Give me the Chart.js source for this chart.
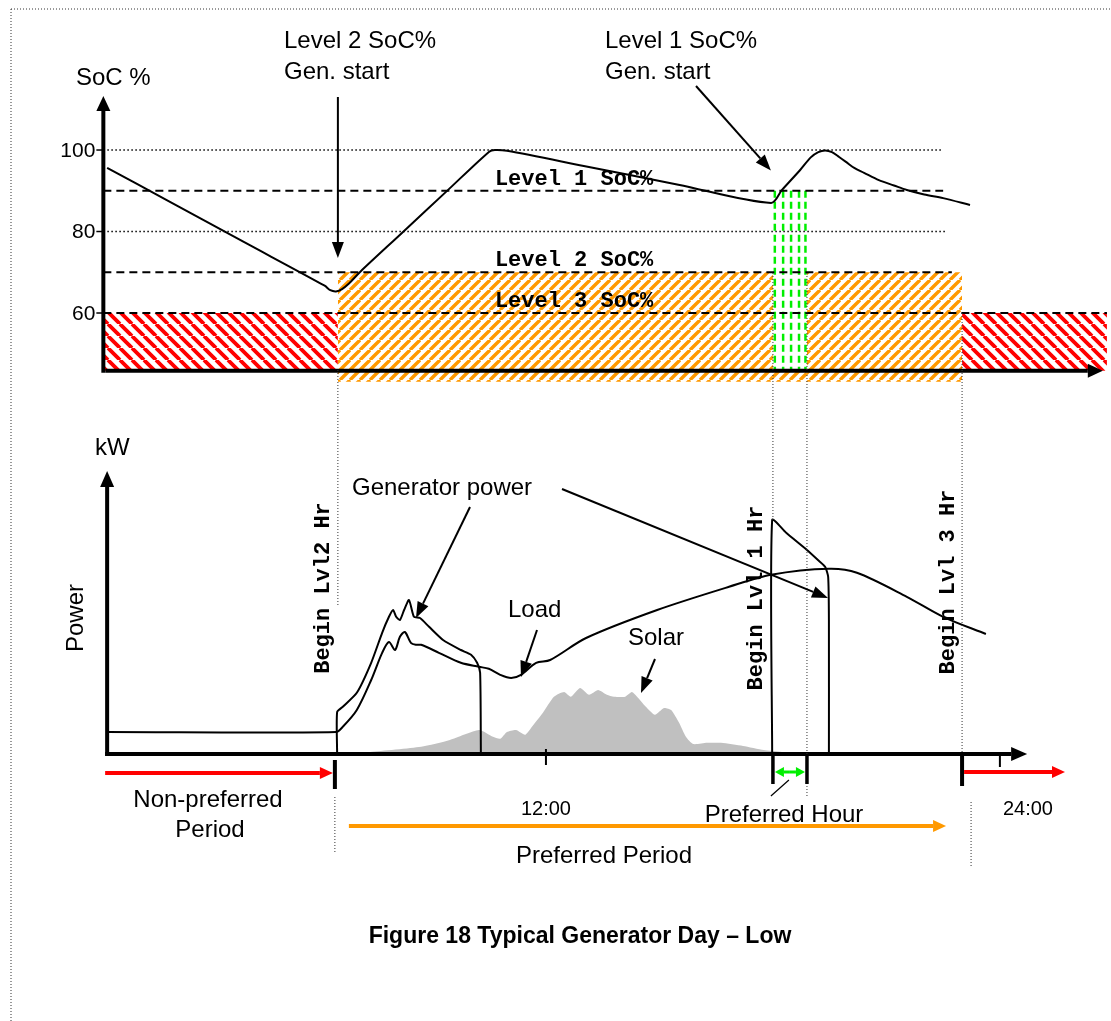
<!DOCTYPE html>
<html>
<head>
<meta charset="utf-8">
<script src="https://cdn.jsdelivr.net/npm/chart.js@4.4.1/dist/chart.umd.min.js"></script>
<style>
  html, body { margin: 0; padding: 0; background: #fff; }
  #wrap { position: relative; width: 1111px; height: 1021px; }
  #wrap canvas { position: absolute; left: 0; top: 0; }
</style>
</head>
<body>
<div id="wrap">
  <canvas id="chartSoc" width="1111" height="1021"></canvas>
  <canvas id="chartPower" width="1111" height="1021"></canvas>
</div>
<script>
// x values are hours of the day
const socHours  = [0.4, 2, 4, 6.15, 6.3, 6.45, 6.6, 6.8, 7.1, 8.2, 9.4, 10.5, 10.65, 10.97, 13, 15.5, 17.95, 18.24, 18.72, 19.0, 19.2, 19.38, 19.56, 19.75, 19.93, 20.15, 20.41, 20.8, 21.2, 21.54, 22.0, 22.5, 23.21];
const socValues = [95.6, 87.6, 77.5, 66.7, 65.6, 65.3, 65.8, 67.3, 70.2, 79.7, 90.1, 99.6, 100, 99.8, 96.1, 91.5, 87.0, 90.2, 95.1, 98.2, 99.5, 99.9, 99.5, 98.3, 97.1, 95.6, 94.4, 92.6, 91.3, 90.2, 89.1, 88.2, 86.5];

const socTicks = [100, 80, 60];
const gridValues = [100, 80];
const gridEndHours = [22.5, 22.6];
const levelNames = ["Level 1 SoC%", "Level 2 SoC%", "Level 3 SoC%"];
const levelValues = [90, 70, 60];
const levelEndHours = [22.5, 22.73, 26.83];

const lvl2Start = 6.5;   // Begin Lvl2 Hr
const lvl1Start = 18.0;  // Begin Lvl 1 Hr
const lvl1End = 18.9;    // end of preferred hour
const lvl3Start = 23.0;  // Begin Lvl 3 Hr
const dayEnd = 26.83;
const socFloor = 45.8;
const orangeFloor = 43.1;
const greenHours = [18.05, 18.27, 18.48, 18.69, 18.86];

const loadHours = [0.4, 6.45, 6.63, 7.0, 7.38, 7.67, 7.85, 8.01, 8.14, 8.27, 8.43, 8.56, 8.7, 9.17, 9.75, 10.23, 10.49, 10.79, 11.08, 11.34, 11.74, 12.11, 13.06, 14.94, 16.84, 17.95, 19.48, 20.22, 21.54, 22.5, 23.63];
const loadKw    = [0.55, 0.55, 0.68, 1.1, 1.85, 2.53, 2.8, 2.6, 2.93, 3.05, 2.78, 2.73, 2.73, 2.53, 2.28, 2.18, 2.13, 1.98, 1.9, 1.98, 2.28, 2.35, 2.9, 3.6, 4.18, 4.48, 4.63, 4.53, 3.93, 3.43, 3.0];

const gen1Hours = [6.48, 6.48, 6.63, 7.0, 7.38, 7.67, 7.85, 7.96, 8.04, 8.14, 8.25, 8.38, 8.51, 8.67, 8.91, 9.28, 9.75, 10.02, 10.18, 10.26, 10.28];
const gen1Kw    = [0, 1.05, 1.18, 1.53, 2.28, 3.03, 3.43, 3.6, 3.43, 3.35, 3.6, 3.85, 3.43, 3.4, 3.18, 2.85, 2.6, 2.48, 2.28, 2.03, 0];

const gen2Hours = [17.98, 17.98, 18.35, 18.9, 19.19, 19.38, 19.46, 19.48, 19.48];
const gen2Kw    = [0, 5.85, 5.53, 5.1, 4.85, 4.68, 4.43, 3.35, 0];

const solarHours = [7.35, 8.7, 9.46, 10.23, 10.6, 10.79, 10.97, 11.21, 11.45, 11.63, 11.92, 12.21, 12.48, 12.66, 12.9, 13.14, 13.38, 13.61, 13.8, 14.09, 14.27, 14.41, 14.64, 14.88, 15.12, 15.31, 15.52, 15.7, 15.89, 16.26, 16.63, 17.21, 17.76, 18.24];
const solarKw    = [0.05, 0.18, 0.35, 0.6, 0.43, 0.38, 0.55, 0.6, 0.48, 0.68, 1.03, 1.43, 1.55, 1.43, 1.65, 1.48, 1.6, 1.48, 1.43, 1.43, 1.55, 1.43, 1.18, 0.98, 1.15, 1.1, 0.78, 0.43, 0.25, 0.28, 0.28, 0.2, 0.1, 0.05];

const hourTicks = [12, 24];
const hourTickLabels = ["12:00", "24:00"];

const SANS = '"Liberation Sans", Arial, sans-serif';
const MONO = '"Liberation Mono", "Courier New", monospace';

const pts = (xs, ys) => xs.map((h, i) => ({ x: h, y: ys[i] }));

function stripes(ctx, color, size, width, dir) {
  const c = document.createElement("canvas");
  c.width = size; c.height = size;
  const g = c.getContext("2d");
  g.fillStyle = "#fff";
  g.fillRect(0, 0, size, size);
  g.strokeStyle = color;
  g.lineWidth = width;
  g.beginPath();
  for (let k = -1; k <= 1; k++) {
    if (dir > 0) { g.moveTo(k * size, size); g.lineTo(k * size + size, 0); }
    else { g.moveTo(k * size, 0); g.lineTo(k * size + size, size); }
  }
  g.stroke();
  return ctx.createPattern(c, "repeat");
}

function arrow(ctx, x1, y1, x2, y2, color, lw, head, half) {
  const a = Math.atan2(y2 - y1, x2 - x1);
  const bx = x2 - head * Math.cos(a), by = y2 - head * Math.sin(a);
  ctx.strokeStyle = color; ctx.fillStyle = color; ctx.lineWidth = lw;
  ctx.setLineDash([]);
  ctx.beginPath(); ctx.moveTo(x1, y1); ctx.lineTo(bx, by); ctx.stroke();
  ctx.beginPath();
  ctx.moveTo(x2, y2);
  ctx.lineTo(bx + half * Math.sin(a), by - half * Math.cos(a));
  ctx.lineTo(bx - half * Math.sin(a), by + half * Math.cos(a));
  ctx.closePath(); ctx.fill();
}

function seg(ctx, x1, y1, x2, y2, lw, dash, color) {
  ctx.strokeStyle = color || "#000";
  ctx.lineWidth = lw;
  ctx.setLineDash(dash || []);
  ctx.beginPath(); ctx.moveTo(x1, y1); ctx.lineTo(x2, y2); ctx.stroke();
  ctx.setLineDash([]);
}

function vtext(ctx, s, cx, cy) {
  ctx.save();
  ctx.translate(cx, cy);
  ctx.rotate(-Math.PI / 2);
  ctx.textAlign = "center";
  ctx.textBaseline = "middle";
  ctx.fillText(s, 0, 0);
  ctx.restore();
}

const xScale = { type: "linear", min: 0, max: 26.9, display: false };

// ---------- top chart: state of charge ----------
const ctxSoc = document.getElementById("chartSoc").getContext("2d");
const redHatch = stripes(ctxSoc, "#ff0000", 12, 3.8, -1);
const orangeHatch = stripes(ctxSoc, "#ff9900", 10, 3.4, 1);

const socDecor = {
  id: "socDecor",
  afterDraw(chart) {
    const { ctx, scales: { x, y } } = chart;
    const x0 = x.getPixelForValue(0.3);
    const y0 = y.getPixelForValue(socFloor);
    ctx.save();
    arrow(ctx, x0, y0 + 2, x0, 96, "#000", 4, 15, 7);
    arrow(ctx, x0 + 2, y0, x.getPixelForValue(26.72), y0, "#000", 4, 15, 7);

    ctx.fillStyle = "#000";
    ctx.font = "21px " + SANS;
    ctx.textAlign = "right";
    ctx.textBaseline = "middle";
    socTicks.forEach(v => {
      const py = y.getPixelForValue(v);
      seg(ctx, x0 - 7, py, x0, py, 1.5);
      ctx.fillText(String(v), x0 - 8, py + 1);
    });

    ctx.font = "bold 22px " + MONO;
    ctx.textAlign = "left";
    ctx.textBaseline = "alphabetic";
    levelNames.forEach((s, i) => {
      ctx.fillText(s, x.getPixelForValue(10.65), y.getPixelForValue(levelValues[i]) - 6);
    });

    ctx.font = "24px " + SANS;
    ctx.fillText("SoC %", 76, 85);
    ctx.fillText("Level 2 SoC%", 284, 48);
    ctx.fillText("Gen. start", 284, 79);
    ctx.fillText("Level 1 SoC%", 605, 48);
    ctx.fillText("Gen. start", 605, 79);

    const xa = x.getPixelForValue(lvl2Start);
    arrow(ctx, xa, 97, xa, 258, "#000", 2, 16, 6);
    arrow(ctx, 696, 86, x.getPixelForValue(lvl1Start) - 2, y.getPixelForValue(95), "#000", 2, 16, 6);
    ctx.restore();
  }
};

const socDatasets = [
  { data: pts(socHours, socValues), borderColor: "#000", borderWidth: 2, tension: 0.3 }
];
levelValues.forEach((v, i) => socDatasets.push({
  data: [{ x: 0.3, y: v }, { x: levelEndHours[i], y: v }],
  borderColor: "#000", borderWidth: 2, borderDash: [8, 5]
}));
gridValues.forEach((v, i) => socDatasets.push({
  data: [{ x: 0.3, y: v }, { x: gridEndHours[i], y: v }],
  borderColor: "#000", borderWidth: 1.5, borderDash: [1.5, 2.5]
}));
greenHours.forEach(h => socDatasets.push({
  data: [{ x: h, y: levelValues[0] }, { x: h, y: socFloor }],
  borderColor: "#00ee00", borderWidth: 2.5, borderDash: [7, 4]
}));
socDatasets.push(
  { data: [{ x: 0.3, y: 60 }, { x: lvl2Start, y: 60 }], fill: { value: socFloor }, backgroundColor: redHatch, borderWidth: 0 },
  { data: [{ x: lvl3Start, y: 60 }, { x: dayEnd, y: 60 }], fill: { value: socFloor }, backgroundColor: redHatch, borderWidth: 0 },
  { data: [{ x: lvl2Start, y: 70 }, { x: lvl1Start, y: 70 }], fill: { value: orangeFloor }, backgroundColor: orangeHatch, borderWidth: 0 },
  { data: [{ x: lvl1Start, y: socFloor }, { x: lvl1End, y: socFloor }], fill: { value: orangeFloor }, backgroundColor: orangeHatch, borderWidth: 0 },
  { data: [{ x: lvl1End, y: 70 }, { x: lvl3Start, y: 70 }], fill: { value: orangeFloor }, backgroundColor: orangeHatch, borderWidth: 0 }
);

new Chart(ctxSoc, {
  type: "line",
  data: { datasets: socDatasets },
  options: {
    responsive: false,
    animation: false,
    devicePixelRatio: 1,
    layout: { padding: { left: 92, right: 1.4, top: 88.9, bottom: 626.5 } },
    elements: { point: { radius: 0 }, line: { tension: 0 } },
    scales: { x: xScale, y: { type: "linear", min: 40, max: 115, display: false } },
    plugins: { legend: { display: false }, tooltip: { enabled: false } }
  },
  plugins: [socDecor]
});

// ---------- bottom chart: power ----------
const ctxPow = document.getElementById("chartPower").getContext("2d");

const powerDecor = {
  id: "powerDecor",
  afterDraw(chart) {
    const { ctx, scales: { x, y } } = chart;
    const x0 = x.getPixelForValue(0.4);
    const y0 = y.getPixelForValue(0);
    const px = h => x.getPixelForValue(h);
    ctx.save();
    arrow(ctx, x0, y0 + 2, x0, 471, "#000", 4, 16, 7);
    arrow(ctx, x0 - 2, y0, px(24.72), y0, "#000", 4, 16, 7);

    // hour ticks
    hourTicks.forEach((h, i) => {
      seg(ctx, px(h), y0 - 5 + i * 3, px(h), y0 + 11 + i * 2, 2);
    });
    ctx.fillStyle = "#000";
    ctx.font = "20px " + SANS;
    ctx.textBaseline = "alphabetic";
    ctx.textAlign = "center";
    ctx.fillText(hourTickLabels[0], px(hourTicks[0]), 815);
    ctx.textAlign = "left";
    ctx.fillText(hourTickLabels[1], px(hourTicks[1]) + 3, 815);

    // dotted verticals linking both charts
    const dot = [1, 2];
    seg(ctx, px(lvl2Start), 370, px(lvl2Start), 605, 1, dot, "#333");
    seg(ctx, px(lvl2Start) - 3, 797, px(lvl2Start) - 3, 853, 1, dot, "#333");
    seg(ctx, px(lvl1Start), 273, px(lvl1Start), 520, 1, dot, "#333");
    seg(ctx, px(lvl1End), 273, px(lvl1End), 798, 1, dot, "#333");
    seg(ctx, px(lvl3Start), 313, px(lvl3Start), 754, 1, dot, "#333");
    seg(ctx, px(lvl3Start) + 9, 802, px(lvl3Start) + 9, 867, 1, dot, "#333");

    // period markers
    arrow(ctx, x0 - 2, 773, px(lvl2Start) - 5, 773, "#ff0000", 4, 13, 6);
    seg(ctx, px(lvl2Start) - 3, 760, px(lvl2Start) - 3, 789, 4);
    arrow(ctx, px(lvl2Start) + 11, 826, px(lvl3Start) - 16, 826, "#ff9900", 4, 13, 6);
    seg(ctx, px(lvl1Start), y0, px(lvl1Start), 784, 3.5);
    seg(ctx, px(lvl1End), y0, px(lvl1End), 784, 3.5);
    const gm = (px(lvl1Start) + px(lvl1End)) / 2;
    arrow(ctx, gm, 772, px(lvl1Start) + 2, 772, "#00ee00", 3, 9, 5);
    arrow(ctx, gm, 772, px(lvl1End) - 2, 772, "#00ee00", 3, 9, 5);
    seg(ctx, px(lvl1Start) - 2, 796, px(lvl1Start) + 16, 780, 1.2);
    seg(ctx, px(lvl3Start), y0, px(lvl3Start), 786, 4);
    arrow(ctx, px(lvl3Start) + 2, 772, 1065, 772, "#ff0000", 4, 13, 6);

    // labels
    ctx.fillStyle = "#000";
    ctx.font = "24px " + SANS;
    ctx.textAlign = "left";
    ctx.fillText("kW", 95, 455);
    ctx.fillText("Generator power", 352, 495);
    ctx.fillText("Load", 508, 617);
    ctx.fillText("Solar", 628, 645);
    ctx.textAlign = "center";
    ctx.fillText("Non-preferred", 208, 807);
    ctx.fillText("Period", 210, 837);
    ctx.fillText("Preferred Hour", 784, 822);
    ctx.fillText("Preferred Period", 604, 863);
    vtext(ctx, "Power", 76, 618);

    ctx.font = "bold 22px " + MONO;
    vtext(ctx, "Begin Lvl2 Hr", px(lvl2Start) - 14, 588);
    vtext(ctx, "Begin Lvl 1 Hr", px(lvl1Start) - 16, 598);
    vtext(ctx, "Begin Lvl 3 Hr", px(lvl3Start) - 14, 582);

    // pointer arrows
    arrow(ctx, 470, 507, 416, 618, "#000", 2, 16, 6);
    arrow(ctx, 562, 489, 828, 598, "#000", 2, 16, 6);
    arrow(ctx, 537, 630, 521, 677, "#000", 2, 16, 6);
    arrow(ctx, 655, 659, 641, 693, "#000", 2, 16, 6);

    // caption and page frame
    ctx.font = "bold 23px " + SANS;
    ctx.textAlign = "center";
    ctx.fillText("Figure 18 Typical Generator Day \u2013 Low", 580, 943);
    seg(ctx, 11, 9, 1111, 9, 1, [1, 2], "#333");
    seg(ctx, 11, 9, 11, 1021, 1, [1, 2], "#333");
    ctx.restore();
  }
};

new Chart(ctxPow, {
  type: "line",
  data: {
    datasets: [
      { label: "Generator 2", data: pts(gen2Hours, gen2Kw), borderColor: "#000", borderWidth: 2, tension: 0.2 },
      { label: "Generator 1", data: pts(gen1Hours, gen1Kw), borderColor: "#000", borderWidth: 2, tension: 0.2 },
      { label: "Load", data: pts(loadHours, loadKw), borderColor: "#000", borderWidth: 2, tension: 0.3 },
      { label: "Solar", data: pts(solarHours, solarKw), borderWidth: 0, fill: "origin", backgroundColor: "#c0c0c0", tension: 0.2 }
    ]
  },
  options: {
    responsive: false,
    animation: false,
    devicePixelRatio: 1,
    layout: { padding: { left: 92, right: 1.4, top: 434, bottom: 267 } },
    elements: { point: { radius: 0 } },
    scales: { x: xScale, y: { type: "linear", min: 0, max: 8, display: false } },
    plugins: { legend: { display: false }, tooltip: { enabled: false } }
  },
  plugins: [powerDecor]
});
</script>
</body>
</html>
